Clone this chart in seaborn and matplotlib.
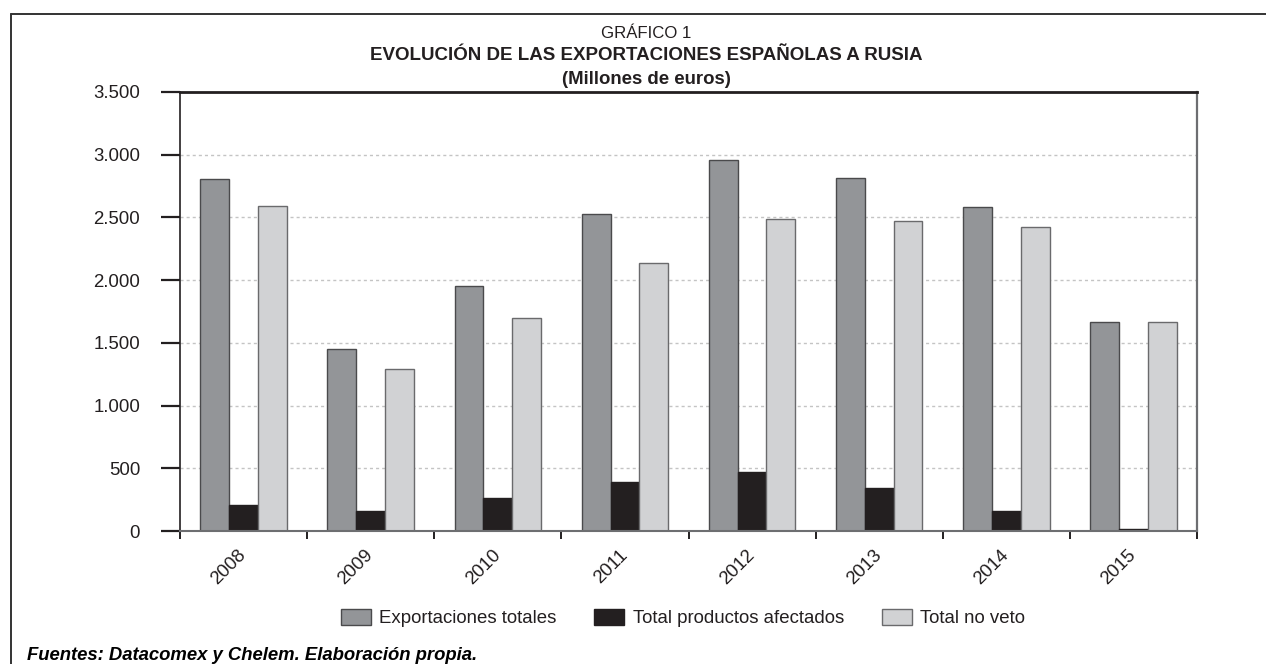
import numpy as np
import pandas as pd
import matplotlib
matplotlib.use("Agg")
import matplotlib.pyplot as plt
import matplotlib.transforms as mtransforms
from matplotlib.lines import Line2D
from matplotlib.patches import Patch
import seaborn as sns

# Exportaciones españolas a Rusia (millones de euros)
years = ["2008", "2009", "2010", "2011", "2012", "2013", "2014", "2015"]
exportaciones_totales = [2806, 1448, 1954, 2526, 2955, 2814, 2582, 1667]
productos_afectados = [205, 160, 261, 394, 469, 341, 160, 14]
total_no_veto = [2593, 1291, 1696, 2135, 2486, 2473, 2423, 1667]

series_names = ["Exportaciones totales", "Total productos afectados", "Total no veto"]
series_colors = ["#939598", "#231f20", "#d1d2d4"]
series_edges = ["#4a4a4c", "#231f20", "#6a6a6c"]

yticks = [0, 500, 1000, 1500, 2000, 2500, 3000, 3500]
ytick_labels = ["0", "500", "1.000", "1.500", "2.000", "2.500", "3.000", "3.500"]

df = pd.DataFrame({
    "year": years * 3,
    "serie": [s for s in series_names for _ in years],
    "valor": exportaciones_totales + productos_afectados + total_no_veto,
})

sns.set_theme(style="white")
plt.rcParams["font.family"] = ["Liberation Sans", "DejaVu Sans"]

W, H = 1266, 664
fig = plt.figure(figsize=(W / 100, H / 100), dpi=100)
ax = fig.add_axes([180 / W, 1 - 531 / H, (1197 - 180) / W, (531 - 92) / H])

sns.barplot(data=df, x="year", y="valor", hue="serie", hue_order=series_names,
            palette=series_colors, width=0.68, saturation=1, ax=ax,
            legend=False, errorbar=None)

# bar outlines per series
for cont, ec in zip(ax.containers, series_edges):
    for bar in cont:
        bar.set_edgecolor(ec)
        bar.set_linewidth(1.0)

ax.set_xlim(-0.5, len(years) - 0.5)
ax.set_ylim(0, 3500)
ax.set_xlabel("")
ax.set_ylabel("")

# dotted horizontal gridlines
for v in yticks[1:-1]:
    ax.axhline(v, color="#c4c4c4", lw=1.0, ls=(0, (2.2, 2.2)), zorder=0)

ax.set_yticks(yticks)
ax.set_yticklabels(ytick_labels, fontsize=13.4, color="#231f20")
ax.tick_params(axis="y", which="major", direction="out", length=13.7, width=1.6,
               color="#231f20", pad=15, left=True)

# year labels centred on categories, ticks on category boundaries
ax.set_xticks(np.arange(len(years)))
ax.set_xticklabels(years, fontsize=13.4, rotation=45, ha="right", color="#231f20")
ax.set_xticks(np.arange(len(years) + 1) - 0.5, minor=True)
ax.tick_params(axis="x", which="major", length=0, pad=11)
ax.tick_params(axis="x", which="minor", direction="out", length=5.5, width=1.4,
               color="#231f20", bottom=True)
offset = mtransforms.ScaledTranslation(6 / 100, 0, fig.dpi_scale_trans)
for lab in ax.get_xticklabels():
    lab.set_transform(lab.get_transform() + offset)

for side, (c, lw) in {"top": ("#231f20", 2.0), "left": ("#231f20", 1.2),
                      "right": ("#6d6e71", 1.6), "bottom": ("#6d6e71", 1.5)}.items():
    ax.spines[side].set_visible(True)
    ax.spines[side].set_color(c)
    ax.spines[side].set_linewidth(lw)

# titles
cx = 646 / W
fig.text(cx, 1 - 33 / H, "GRÁFICO 1", ha="center", va="center",
         fontsize=12.1, color="#231f20")
fig.text(cx, 1 - 56 / H, "EVOLUCIÓN DE LAS EXPORTACIONES ESPAÑOLAS A RUSIA",
         ha="center", va="center", fontsize=13.5, fontweight="bold", color="#231f20")
fig.text(cx, 1 - 79 / H, "(Millones de euros)", ha="center", va="center",
         fontsize=13.4, fontweight="bold", color="#231f20")

# legend
handles = [Patch(facecolor=fc, edgecolor=ec, linewidth=1.0)
           for fc, ec in zip(series_colors, series_edges)]
fig.legend(handles, series_names, loc="center", bbox_to_anchor=(683 / W, 1 - 618 / H),
           ncol=3, frameon=False, fontsize=13.4, handlelength=1.6, handleheight=0.95,
           handletextpad=0.45, columnspacing=2.05, labelcolor="#231f20")

# source note
fig.text(27 / W, 1 - 655 / H, "Fuentes: Datacomex y Chelem. Elaboración propia.",
         ha="left", va="center", fontsize=13.3, fontweight="bold",
         fontstyle="italic", color="#000000")

# outer frame (top and left edges)
fig.add_artist(Line2D([10.7 / W, 1.0], [1 - 14 / H, 1 - 14 / H],
                      transform=fig.transFigure, color="#333333", lw=1.4))
fig.add_artist(Line2D([10.7 / W, 10.7 / W], [0.0, 1 - 14 / H],
                      transform=fig.transFigure, color="#333333", lw=1.4))

fig.savefig("out.png", dpi=100, facecolor="white")
